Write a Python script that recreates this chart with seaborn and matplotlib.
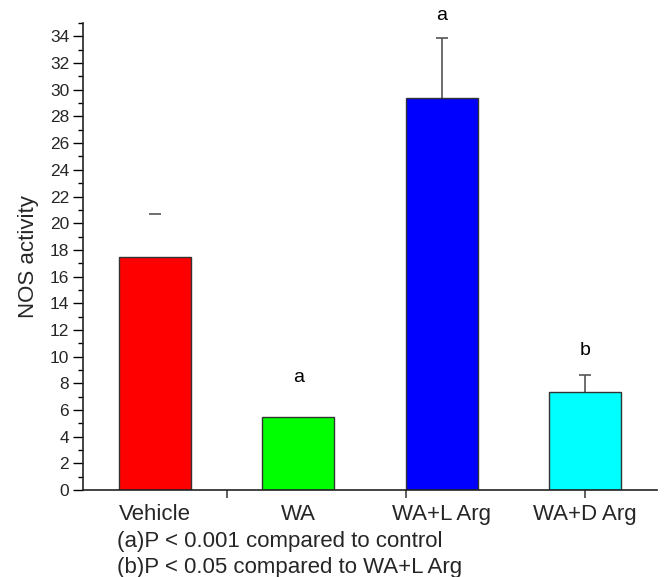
import matplotlib
matplotlib.use("Agg")
import matplotlib.pyplot as plt
import seaborn as sns
import pandas as pd

categories = ["Vehicle", "WA", "WA+L Arg", "WA+D Arg"]
values = [17.45, 5.5, 29.4, 7.35]
err_upper = [3.25, None, 4.5, 1.3]
sig_labels = ["", "a", "a", "b"]
sig_heights = [None, 8.4, 35.6, 10.45]
colors = ["#FF0000", "#00FF00", "#0000FF", "#00FFFF"]
yticks = list(range(0, 35, 2))
footnotes = ["(a)P < 0.001 compared to control", "(b)P < 0.05 compared to WA+L Arg"]

sns.set_style("ticks")
plt.rcParams["font.family"] = ["Liberation Sans", "DejaVu Sans"]

fig = plt.figure(figsize=(6.64, 5.77), dpi=100)
ax = fig.add_axes([0.125, 0.1508, 0.8645, 0.8092])

df = pd.DataFrame({"group": categories, "value": values})
sns.barplot(data=df, x="group", y="value", hue="group", palette=colors,
            order=categories, hue_order=categories, legend=False, saturation=1,
            width=0.5, edgecolor="#333333", linewidth=1.0, ax=ax, zorder=2)

for i, (v, e) in enumerate(zip(values, err_upper)):
    if e is None:
        continue
    elw = 0 if categories[i] == "Vehicle" else 1.2
    _, caps, _ = ax.errorbar(i, v, yerr=[[0], [e]], fmt="none", ecolor="#555555",
                             elinewidth=elw, capsize=4, capthick=1.2, zorder=1)
    if len(caps) > 1:
        caps[0].set_visible(False)

for i, (lab, h) in enumerate(zip(sig_labels, sig_heights)):
    if lab and h is not None:
        ax.text(i, h, lab, ha="center", va="center", fontsize=14, color="black")

ax.set_xlim(-0.5, 3.5)
ax.set_ylim(0, 35)
ax.set_yticks(yticks)
ax.set_yticks(range(0, 36), minor=True)
ax.tick_params(axis="y", which="major", length=7, width=1, labelsize=12.5, pad=3, color="black")
ax.tick_params(axis="y", which="minor", length=3.6, width=1, color="black")

ax.set_xticks(range(len(categories)))
ax.set_xticklabels(categories, fontsize=16)
ax.tick_params(axis="x", which="major", length=0, pad=10)

sec = ax.secondary_xaxis("bottom")
sec.set_xticks([0.5, 1.75, 3.0])
sec.set_xticklabels([])
sec.tick_params(axis="x", length=6, width=1.1, color="#333333")
sec.spines["bottom"].set_visible(False)

ax.set_xlabel("")
ax.set_ylabel("NOS activity", fontsize=16, labelpad=8)

sns.despine(ax=ax)
for s in ["left", "bottom"]:
    ax.spines[s].set_linewidth(1.2)
    ax.spines[s].set_color("#222222")

fig.text(117 / 664, 1 - 541 / 577, footnotes[0], fontsize=16, va="center", ha="left")
fig.text(117 / 664, 1 - 567 / 577, footnotes[1], fontsize=16, va="center", ha="left")

fig.savefig("out.png", dpi=100)
